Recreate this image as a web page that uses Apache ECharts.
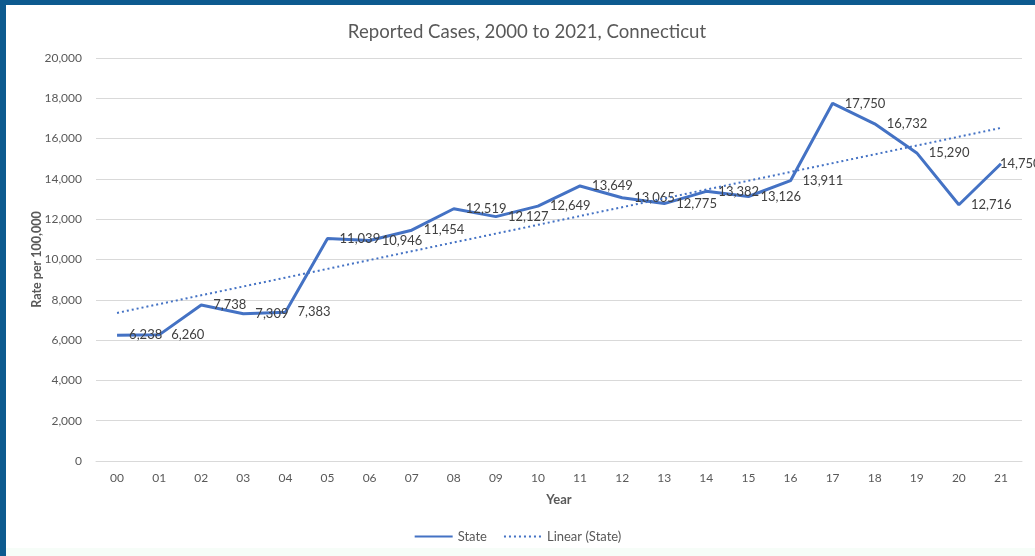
<!DOCTYPE html>
<html>
<head>
<meta charset="utf-8">
<script src="https://cdn.jsdelivr.net/npm/echarts@6/dist/echarts.min.js"></script>
<style>
  html, body { margin: 0; padding: 0; background: #0d5a8f; }
  #chart { width: 1035px; height: 556px; }
</style>
</head>
<body>
<div id="chart"></div>
<script>
const years = ['00', '01', '02', '03', '04', '05', '06', '07', '08', '09', '10',
  '11', '12', '13', '14', '15', '16', '17', '18', '19', '20', '21']
const stateRates = [6238, 6260, 7738, 7309, 7383, 11039, 10946, 11454, 12519, 12127, 12649,
  13649, 13065, 12775, 13382, 13126, 13911, 17750, 16732, 15290, 12716, 14750]
// trend line end points
const trendStart = 7350
const trendEnd = 16530

const font = "Lato, 'Open Sans', sans-serif"

const chart = echarts.init(document.getElementById('chart'))

chart.setOption({
  animation: false,
  backgroundColor: '#ffffff',
  textStyle: { fontFamily: font },
  graphic: [
    { type: 'rect', left: 0, top: 0, shape: { width: 1035, height: 5 }, style: { fill: '#0d5a8f' } },
    { type: 'rect', left: 0, top: 0, shape: { width: 6, height: 556 }, style: { fill: '#0d5a8f' } },
    { type: 'rect', left: 6, top: 548, shape: { width: 1029, height: 8 }, style: { fill: '#f6fdf8' } }
  ],
  title: {
    text: 'Reported Cases, 2000 to 2021, Connecticut',
    left: 522,
    textAlign: 'center',
    top: 17,
    textStyle: { fontFamily: font, fontSize: 18.6, fontWeight: 'normal', color: '#595959' }
  },
  legend: {
    bottom: 8,
    left: 'center',
    itemWidth: 38,
    itemHeight: 6,
    itemGap: 16,
    itemStyle: { opacity: 0 },
    textStyle: { fontFamily: font, fontSize: 13, color: '#595959' },
    data: ['State', 'Linear (State)']
  },
  grid: { left: 96, right: 13, top: 58, bottom: 95 },
  xAxis: {
    type: 'category',
    data: years,
    boundaryGap: true,
    name: 'Year',
    nameLocation: 'middle',
    nameGap: 32,
    nameMoveOverlap: false,
    nameTextStyle: { fontFamily: font, fontSize: 13, fontWeight: 'bold', color: '#595959' },
    axisLine: { lineStyle: { color: '#d9d9d9' } },
    axisTick: { show: false },
    axisLabel: { fontFamily: font, fontSize: 12, color: '#595959', margin: 11 }
  },
  yAxis: {
    type: 'value',
    min: 0,
    max: 20000,
    interval: 2000,
    name: 'Rate per 100,000',
    nameLocation: 'middle',
    nameGap: 53,
    nameMoveOverlap: false,
    nameRotate: 90,
    nameTextStyle: { fontFamily: font, fontSize: 12.5, fontWeight: 'bold', color: '#595959' },
    axisLabel: {
      fontFamily: font, fontSize: 12, color: '#595959', margin: 14,
      formatter: v => v.toLocaleString('en-US')
    },
    splitLine: { lineStyle: { color: '#d9d9d9' } }
  },
  series: [
    {
      name: 'State',
      type: 'line',
      data: stateRates.map((v, i) => i === stateRates.length - 1
        ? { value: v, label: { offset: [-13, 0] } }
        : v),
      symbol: 'circle',
      symbolSize: 0.1,
      showSymbol: true,
      lineStyle: { color: '#4472c4', width: 3 },
      itemStyle: { color: '#4472c4' },
      label: {
        show: true,
        position: 'right',
        distance: 12,
        fontFamily: font,
        fontSize: 13,
        color: '#404040',
        formatter: p => p.value.toLocaleString('en-US')
      },
      z: 3
    },
    {
      name: 'Linear (State)',
      type: 'line',
      data: [[0, trendStart], [years.length - 1, trendEnd]],
      symbol: 'none',
      lineStyle: { color: '#4472c4', width: 2, type: [2, 3] },
      itemStyle: { color: '#4472c4' },
      z: 4
    }
  ]
})
</script>
</body>
</html>
